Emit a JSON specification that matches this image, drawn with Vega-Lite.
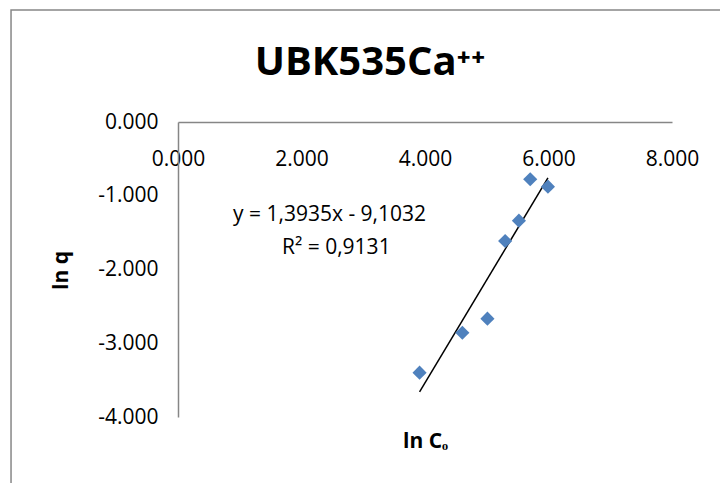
{
  "$schema": "https://vega.github.io/schema/vega-lite/v6.json",
  "width": 494,
  "height": 295,
  "autosize": {"type": "none"},
  "padding": {"left": 178, "top": 122, "right": 48, "bottom": 66},
  "background": "white",
  "config": {"view": {"stroke": null}, "font": "Open Sans"},
  "title": {
    "text": "UBK535Ca⁺⁺",
    "font": "Open Sans",
    "fontSize": 40,
    "fontWeight": "bold",
    "color": "black",
    "anchor": "middle",
    "frame": "group",
    "dx": -55,
    "baseline": "alphabetic",
    "offset": -106
  },
  "layer": [
    {
      "data": {"values": [{}]},
      "mark": {"type": "rect", "filled": false, "stroke": "#878787", "strokeWidth": 1.5},
      "encoding": {
        "x": {"datum": -2.704, "type": "quantitative"},
        "x2": {"datum": 12},
        "y": {"datum": 1.519, "type": "quantitative"},
        "y2": {"datum": -8}
      }
    },
    {
      "data": {"values": [
        {"lnC": 3.912, "lnq": -3.399},
        {"lnC": 4.605, "lnq": -2.857},
        {"lnC": 5.011, "lnq": -2.667},
        {"lnC": 5.298, "lnq": -1.614},
        {"lnC": 5.521, "lnq": -1.338},
        {"lnC": 5.704, "lnq": -0.777},
        {"lnC": 5.991, "lnq": -0.877}
      ]},
      "layer": [
        {
          "transform": [{"regression": "lnq", "on": "lnC"}],
          "mark": {"type": "line", "color": "black", "strokeWidth": 1.5},
          "encoding": {
            "x": {"field": "lnC", "type": "quantitative"},
            "y": {"field": "lnq", "type": "quantitative"}
          }
        },
        {
          "mark": {"type": "point", "shape": "diamond", "filled": true, "size": 200, "color": "#4F81BD", "opacity": 1},
          "encoding": {
            "x": {
              "field": "lnC",
              "type": "quantitative",
              "scale": {"domain": [0, 8], "nice": false, "zero": false},
              "axis": {
                "orient": "bottom",
                "offset": -295,
                "values": [0, 2, 4, 6, 8],
                "format": ".3f",
                "ticks": false,
                "grid": false,
                "domainColor": "#868686",
                "domainWidth": 1.5,
                "labelFont": "Open Sans",
                "labelFontSize": 21,
                "labelColor": "black",
                "labelBaseline": "alphabetic",
                "labelPadding": 43,
                "labelFlush": false,
                "labelOverlap": false,
                "title": "ln Cₒ",
                "titleFont": "Open Sans",
                "titleFontSize": 21,
                "titleFontWeight": "bold",
                "titleColor": "black",
                "titleX": 247,
                "titleY": 325,
                "titleBaseline": "alphabetic",
                "titleAlign": "center"
              }
            },
            "y": {
              "field": "lnq",
              "type": "quantitative",
              "scale": {"domain": [-4, 0], "nice": false, "zero": false},
              "axis": {
                "orient": "left",
                "values": [-4, -3, -2, -1, 0],
                "labelExpr": "replace(format(datum.value, '.3f'), '−', '-')",
                "ticks": false,
                "grid": false,
                "domainColor": "#868686",
                "domainWidth": 1.5,
                "labelFont": "Open Sans",
                "labelFontSize": 21,
                "labelColor": "black",
                "labelPadding": 20,
                "labelFlush": false,
                "labelOverlap": false,
                "title": "ln q",
                "titleFont": "Open Sans",
                "titleFontSize": 21,
                "titleFontWeight": "bold",
                "titleColor": "black",
                "titleAngle": -90,
                "titleX": -111,
                "titleY": 148,
                "titleBaseline": "alphabetic",
                "titleAlign": "center"
              }
            }
          }
        }
      ]
    },
    {
      "data": {"values": [{}]},
      "mark": {"type": "text", "align": "left", "baseline": "alphabetic", "fontSize": 21, "font": "Open Sans", "color": "black"},
      "encoding": {
        "x": {"datum": 0.891, "type": "quantitative"},
        "y": {"datum": -1.342, "type": "quantitative"},
        "text": {"value": "y = 1,3935x - 9,1032"}
      }
    },
    {
      "data": {"values": [{}]},
      "mark": {"type": "text", "align": "left", "baseline": "alphabetic", "fontSize": 21, "font": "Open Sans", "color": "black"},
      "encoding": {
        "x": {"datum": 1.684, "type": "quantitative"},
        "y": {"datum": -1.79, "type": "quantitative"},
        "text": {"value": "R² = 0,9131"}
      }
    }
  ]
}
